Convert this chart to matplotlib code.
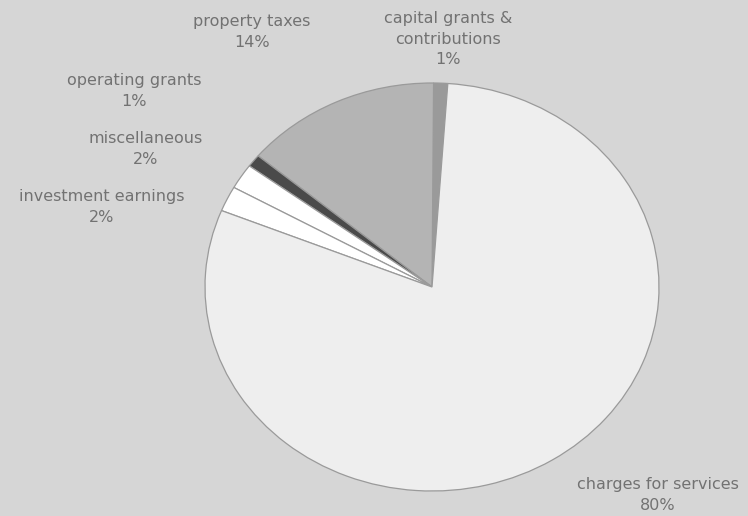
import matplotlib.pyplot as plt

# revenue sources, percent of total (counter-clockwise from the top)
sources = ["capital grants &\ncontributions", "property taxes", "operating grants",
           "miscellaneous", "investment earnings", "charges for services"]
shares = [1, 14, 1, 2, 2, 80]
colors = ["#9a9a9a", "#b4b4b4", "#4a4a4a", "#ffffff", "#ffffff", "#eeeeee"]

# label anchor points in pixels (x, y from top)
label_xy = [(448, 39), (252, 32), (134, 91), (146, 149), (102, 207), (658, 495)]

W, H = 748, 516
fig = plt.figure(figsize=(W / 100, H / 100), dpi=100)
fig.patch.set_facecolor("#d6d6d6")

# pie drawn in its own axes, stretched into an ellipse
cx, cy, rx, ry = 432, 287, 227, 204
pax = fig.add_axes([(cx - rx) / W, 1 - (cy + ry) / H, 2 * rx / W, 2 * ry / H])
wedges, _ = pax.pie(shares, colors=colors, startangle=86, counterclock=True,
                    radius=1, wedgeprops=dict(edgecolor="#9a9a9a", linewidth=0.9))
pax.set_aspect("auto")
pax.set_xlim(-1, 1)
pax.set_ylim(-1, 1)
pax.set_axis_off()

# text layer in pixel coordinates
tax = fig.add_axes([0, 0, 1, 1])
tax.set_xlim(0, W)
tax.set_ylim(H, 0)
tax.set_axis_off()
tax.patch.set_alpha(0)
for name, val, (x, y) in zip(sources, shares, label_xy):
    tax.text(x, y, f"{name}\n{val}%", ha="center", va="center", fontsize=11.5,
             color="#727272", family="DejaVu Sans", linespacing=1.5)

fig.savefig("out.png", dpi=100, facecolor=fig.get_facecolor())
